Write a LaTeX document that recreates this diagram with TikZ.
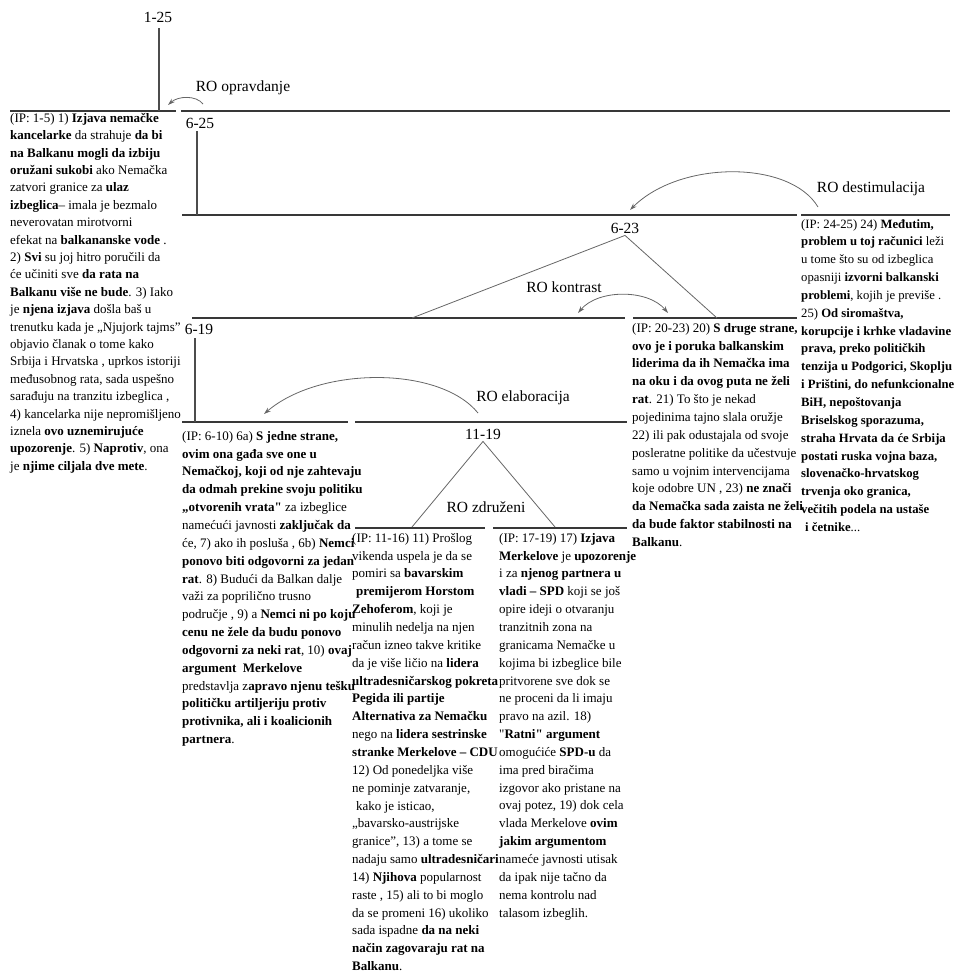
\documentclass[tikz,border=0pt]{standalone}
\usepackage{fontspec}
\setmainfont{Liberation Serif}
\usetikzlibrary{arrows.meta}
\newcommand{\bt}[1]{\textbf{#1}}

\begin{document}
\begin{tikzpicture}[x=1pt,y=-1pt,
  span/.style={draw=black!78, line width=1.8pt},
  stem/.style={draw=black!70, line width=1.2pt},
  branch/.style={draw=black!60, line width=0.8pt},
  relarc/.style={draw=black!60, line width=0.8pt, -{Stealth[length=7pt,width=4.5pt]}},
  lbl/.style={inner sep=0pt, font=\fontsize{15.5}{18}\selectfont},
  leaf/.style={anchor=north west, inner sep=0pt, align=left, font=\fontsize{13}{17.85}\selectfont}
]
\useasboundingbox (0,0) rectangle (956,972);

% span labels
\node[lbl] (r125) at (158,17) {1-25};
\node[lbl] (r625) at (200,123) {6-25};
\node[lbl] (r623) at (625,228) {6-23};
\node[lbl] (r619) at (199,329) {6-19};
\node[lbl] (r1119) at (483,434) {11-19};

% relation labels
\node[lbl] (ro1) at (243,88) {RO opravdanje};
\node[lbl] (ro2) at (871,189) {RO destimulacija};
\node[lbl] (ro3) at (564,287) {RO kontrast};
\node[lbl] (ro4) at (523,398) {RO elaboracija};
\node[lbl] (ro5) at (486,507) {RO združeni};

% horizontal span lines
\coordinate (s0a) at (10,111);  \coordinate (s0b) at (176,111);
\coordinate (s1a) at (181,111); \coordinate (s1b) at (950,111);
\coordinate (s2a) at (182,215); \coordinate (s2b) at (797,215);
\coordinate (s3a) at (801,215); \coordinate (s3b) at (950,215);
\coordinate (s4a) at (192,318); \coordinate (s4b) at (625,318);
\coordinate (s5a) at (633,318); \coordinate (s5b) at (797,318);
\coordinate (s6a) at (182,422); \coordinate (s6b) at (348,422);
\coordinate (s7a) at (355,422); \coordinate (s7b) at (627,422);
\coordinate (s8a) at (355,528); \coordinate (s8b) at (485,528);
\coordinate (s9a) at (493,528); \coordinate (s9b) at (627,528);
\foreach \a/\b in {s0a/s0b,s1a/s1b,s2a/s2b,s3a/s3b,s4a/s4b,s5a/s5b,s6a/s6b,s7a/s7b,s8a/s8b,s9a/s9b}
  \draw[span] (\a) -- (\b);

% vertical stems under span labels
\coordinate (v0) at (159,28);  \draw[stem] (v0) -- (v0 |- s0a);
\coordinate (v1) at (197,131); \draw[stem] (v1) -- (v1 |- s2a);
\coordinate (v2) at (195,338); \draw[stem] (v2) -- (v2 |- s6a);

% multinuclear branches
\coordinate (b1) at (412,318); \coordinate (b2) at (717,318);
\draw[branch] (b1) -- ([yshift=-2pt]r623.south) -- (b2);
\coordinate (b3) at (412,527); \coordinate (b4) at (555,527);
\draw[branch] (b3) -- ([yshift=-2pt]r1119.south) -- (b4);

% relation arcs
\coordinate (a1s) at (203,104); \coordinate (a1e) at (168,105);
\draw[relarc] (a1s) .. controls (196,95) and (178,96) .. (a1e);
\coordinate (a2s) at (818,207); \coordinate (a2e) at (630,210);
\draw[relarc] (a2s) .. controls (790,160) and (680,160) .. (a2e);
\coordinate (a3s) at (578,313); \coordinate (a3e) at (668,313);
\draw[relarc, {Stealth[length=7pt,width=4.5pt]}-{Stealth[length=7pt,width=4.5pt]}] (a3s) .. controls (598,289) and (648,289) .. (a3e);
\coordinate (a4s) at (478,413); \coordinate (a4e) at (264,414);
\draw[relarc] (a4s) .. controls (440,366) and (320,366) .. (a4e);

% elementary discourse units
\node[leaf, font=\fontsize{13}{17.4}\selectfont] (l1) at (10,113) {%
(IP: 1-5) 1) \bt{Izjava nemačke}\\
\bt{kancelarke} da strahuje \bt{da bi}\\
\bt{na Balkanu mogli da izbiju}\\
\bt{oružani sukobi} ako Nemačka\\
zatvori granice za \bt{ulaz}\\
\bt{izbeglica}– imala je bezmalo\\
neverovatan mirotvorni\\
efekat na \bt{balkananske vode} .\\
2) \bt{Svi} su joj hitro poručili da\\
će učiniti sve \bt{da rata na}\\
\bt{Balkanu više ne bude}. 3) Iako\\
je \bt{njena izjava} došla baš u\\
trenutku kada je „Njujork tajms”\\
objavio članak o tome kako\\
Srbija i Hrvatska , uprkos istoriji\\
međusobnog rata, sada uspešno\\
sarađuju na tranzitu izbeglica ,\\
4) kancelarka nije nepromišljeno\\
iznela \bt{ovo uznemirujuće}\\
\bt{upozorenje}. 5) \bt{Naprotiv}, ona\\
je \bt{njime ciljala dve mete}.};

\node[leaf] (l2) at (182,431) {%
(IP: 6-10) 6a) \bt{S jedne strane,}\\
\bt{ovim ona gađa sve one u}\\
\bt{Nemačkoj, koji od nje zahtevaju}\\
\bt{da odmah prekine svoju politiku}\\
\bt{„otvorenih vrata\textquotedbl} za izbeglice\\
namećući javnosti \bt{zaključak da}\\
će, 7) ako ih posluša , 6b) \bt{Nemci}\\
\bt{ponovo biti odgovorni za jedan}\\
\bt{rat}. 8) Budući da Balkan dalje\\
važi za poprilično trusno\\
područje , 9) a \bt{Nemci ni po koju}\\
\bt{cenu ne žele da budu ponovo}\\
\bt{odgovorni za neki rat}, 10) \bt{ovaj}\\
\bt{argument\ \ Merkelove}\\
predstavlja z\bt{apravo njenu tešku}\\
\bt{političku artiljeriju protiv}\\
\bt{protivnika, ali i koalicionih}\\
\bt{partnera}.};

\node[leaf] (l3) at (352,533) {%
(IP: 11-16) 11) Prošlog\\
vikenda uspela je da se\\
pomiri sa \bt{bavarskim}\\
\hspace{4pt}\bt{premijerom Horstom}\\
\bt{Zehoferom}, koji je\\
minulih nedelja na njen\\
račun izneo takve kritike\\
da je više ličio na \bt{lidera}\\
\bt{ultradesničarskog pokreta}\\
\bt{Pegida ili partije}\\
\bt{Alternativa za Nemačku}\\
nego na \bt{lidera sestrinske}\\
\bt{stranke Merkelove – CDU}\\
12) Od ponedeljka više\\
ne pominje zatvaranje,\\
\hspace{4pt}kako je isticao,\\
„bavarsko-austrijske\\
granice”, 13) a tome se\\
nadaju samo \bt{ultradesničari}\\
14) \bt{Njihova} popularnost\\
raste , 15) ali to bi moglo\\
da se promeni 16) ukoliko\\
sada ispadne \bt{da na neki}\\
\bt{način zagovaraju rat na}\\
\bt{Balkanu}.};

\node[leaf] (l4) at (499,533) {%
(IP: 17-19) 17) \bt{Izjava}\\
\bt{Merkelove} je \bt{upozorenje}\\
i za \bt{njenog partnera u}\\
\bt{vladi – SPD} koji se još\\
opire ideji o otvaranju\\
tranzitnih zona na\\
granicama Nemačke u\\
kojima bi izbeglice bile\\
pritvorene sve dok se\\
ne proceni da li imaju\\
pravo na azil. 18)\\
\textquotedbl\bt{Ratni\textquotedbl{} argument}\\
omogućiće \bt{SPD-u} da\\
ima pred biračima\\
izgovor ako pristane na\\
ovaj potez, 19) dok cela\\
vlada Merkelove \bt{ovim}\\
\bt{jakim argumentom}\\
nameće javnosti utisak\\
da ipak nije tačno da\\
nema kontrolu nad\\
talasom izbeglih.};

\node[leaf] (l5) at (632,323) {%
(IP: 20-23) 20) \bt{S druge strane,}\\
\bt{ovo je i poruka balkanskim}\\
\bt{liderima da ih Nemačka ima}\\
\bt{na oku i da ovog puta ne želi}\\
\bt{rat}. 21) To što je nekad\\
pojedinima tajno slala oružje\\
22) ili pak odustajala od svoje\\
posleratne politike da učestvuje\\
samo u vojnim intervencijama\\
koje odobre UN , 23) \bt{ne znači}\\
\bt{da Nemačka sada zaista ne želi}\\
\bt{da bude faktor stabilnosti na}\\
\bt{Balkanu}.};

\node[leaf, font=\fontsize{12.7}{17.85}\selectfont] (l6) at (801,219) {%
(IP: 24-25) 24) \bt{Međutim,}\\
\bt{problem u toj računici} leži\\
u tome što su od izbeglica\\
opasniji \bt{izvorni balkanski}\\
\bt{problemi}, kojih je previše .\\
25) \bt{Od siromaštva,}\\
\bt{korupcije i krhke vladavine}\\
\bt{prava, preko političkih}\\
\bt{tenzija u Podgorici, Skoplju}\\
\bt{i Prištini, do nefunkcionalne}\\
\bt{BiH, nepoštovanja}\\
\bt{Briselskog sporazuma,}\\
\bt{straha Hrvata da će Srbija}\\
\bt{postati ruska vojna baza,}\\
\bt{slovenačko-hrvatskog}\\
\bt{trvenja oko granica,}\\
\bt{večitih podela na ustaše}\\
\hspace{4pt}\bt{i četnike}...};
\end{tikzpicture}
\end{document}
